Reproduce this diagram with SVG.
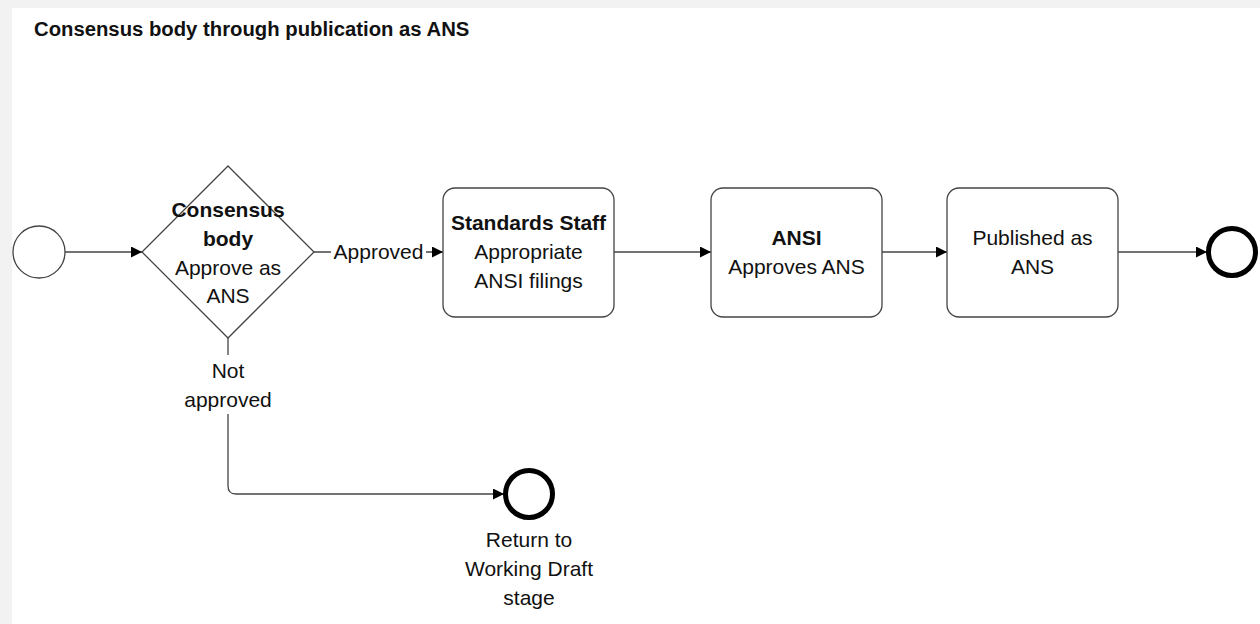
<svg xmlns="http://www.w3.org/2000/svg" width="1260" height="624" viewBox="0 0 1260 624">
<defs>
<marker id="arr" viewBox="0 0 10 10" refX="10" refY="5" markerWidth="11" markerHeight="11" markerUnits="userSpaceOnUse" orient="auto">
<path d="M0,0 L10,5 L0,10 z" fill="#000"/>
</marker>
<style>
text{font-family:"Liberation Sans",Arial,sans-serif;font-size:21px;fill:#111;text-anchor:middle}
.b{font-weight:bold}
.title{font-size:20.3px;font-weight:bold;text-anchor:start}
.task{fill:#fff;stroke:#444;stroke-width:1.3}
.conn{fill:none;stroke:#444;stroke-width:1.3}
.end{fill:#fff;stroke:#000;stroke-width:5}
</style>
</defs>
<rect x="0" y="0" width="1260" height="624" fill="#f2f2f2"/>
<rect x="12" y="8" width="1248" height="616" fill="#fff"/>
<text class="title" x="34" y="36">Consensus body through publication as ANS</text>
<g id="connectors">
<path class="conn" d="M65,252 H142" marker-end="url(#arr)"/>
<path class="conn" d="M314,252 H443" marker-end="url(#arr)"/>
<path class="conn" d="M614,252 H711" marker-end="url(#arr)"/>
<path class="conn" d="M882,252 H947" marker-end="url(#arr)"/>
<path class="conn" d="M1118,252 H1207" marker-end="url(#arr)"/>
<path class="conn" d="M228,338 V355 M228,414 V486 Q228,494 236,494 H504" marker-end="url(#arr)"/>
<rect x="331" y="240" width="95" height="24" fill="#fff"/>
<text x="378.5" y="259">Approved</text>
<text x="228" y="378">Not</text>
<text x="228" y="407">approved</text>
</g>
<g id="start"><circle cx="39" cy="252" r="26" fill="#fff" stroke="#444" stroke-width="1.3"/></g>
<g id="gateway">
<polygon points="228,166 314,252 228,338 142,252" fill="none" stroke="#444" stroke-width="1.3"/>
<text class="b" x="228" y="217">Consensus</text>
<text class="b" x="228" y="246">body</text>
<text x="228" y="275">Approve as</text>
<text x="228" y="303">ANS</text>
</g>
<g id="staff">
<rect class="task" x="443" y="188" width="171" height="129" rx="12"/>
<text class="b" x="528.5" y="230">Standards Staff</text>
<text x="528.5" y="259">Appropriate</text>
<text x="528.5" y="288">ANSI filings</text>
</g>
<g id="ansi">
<rect class="task" x="711" y="188" width="171" height="129" rx="12"/>
<text class="b" x="796.5" y="245">ANSI</text>
<text x="796.5" y="274">Approves ANS</text>
</g>
<g id="published">
<rect class="task" x="947" y="188" width="171" height="129" rx="12"/>
<text x="1032.5" y="245">Published as</text>
<text x="1032.5" y="274">ANS</text>
</g>
<g id="end1"><circle class="end" cx="1232" cy="252" r="23.5"/></g>
<g id="end2">
<circle class="end" cx="529" cy="494" r="23.5"/>
<text x="529" y="547">Return to</text>
<text x="529" y="576">Working Draft</text>
<text x="529" y="605">stage</text>
</g>
</svg>
